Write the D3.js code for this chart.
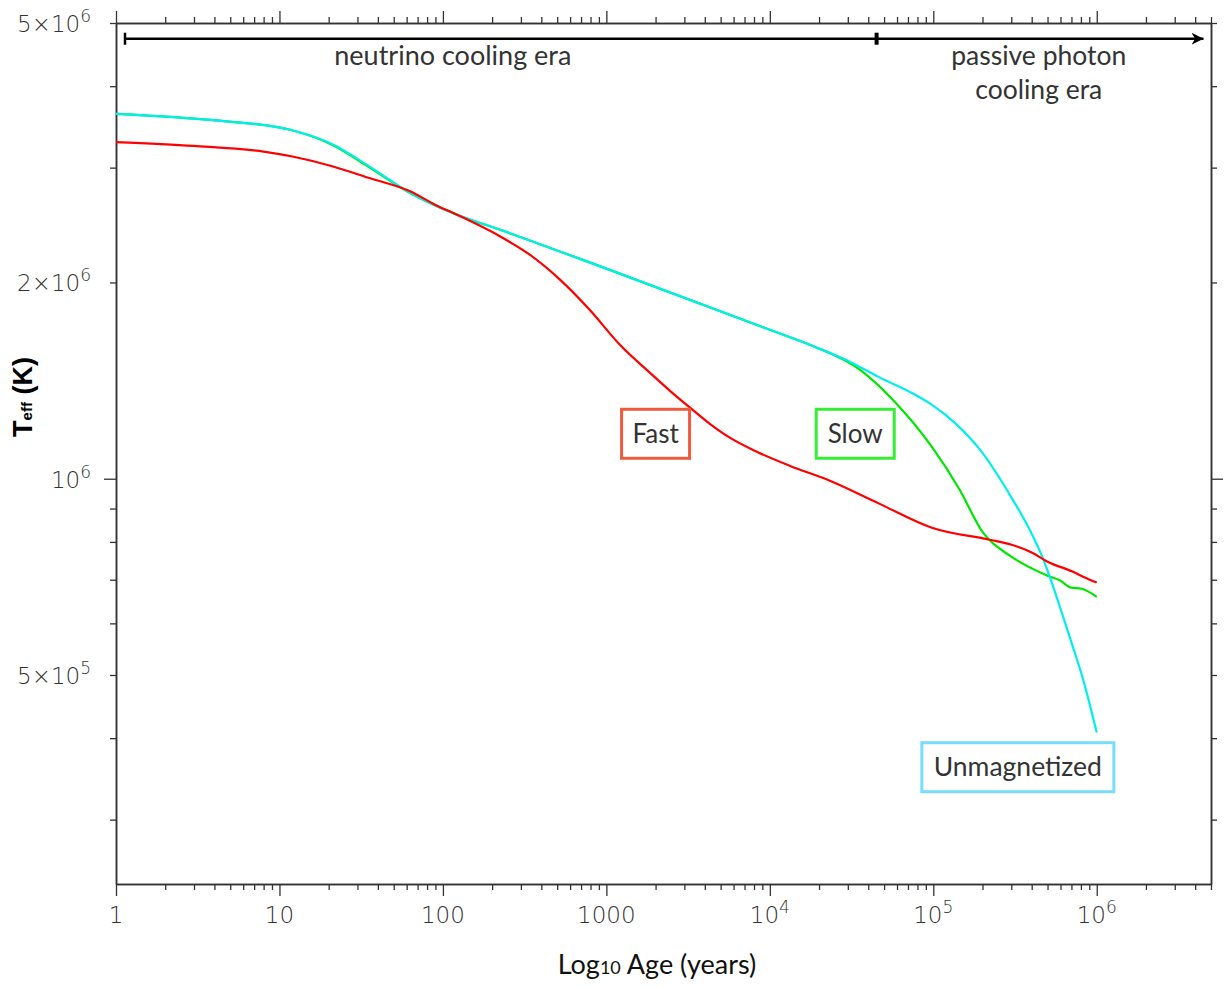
<!DOCTYPE html>
<html>
<head>
<meta charset="utf-8">
<script src="https://cdn.jsdelivr.net/npm/d3@7/dist/d3.min.js"></script>
<style>
  html, body { margin: 0; padding: 0; background: #fff; }
  svg { display: block; }
</style>
</head>
<body>
<svg id="chart" width="1225" height="987"></svg>
<script>
// ---------------- data ----------------
const fastAge  = [1, 3, 8, 12, 21, 35, 63, 90, 122, 224, 340, 520, 790, 1210, 1850, 2450, 3250, 4295, 5690, 8320, 13200, 23300, 47000, 98000, 221000, 301000, 403000, 500000, 715000, 832000, 1000000];
const fastTeff = [3.284e6, 3.24e6, 3.175e6, 3.12e6, 3.015e6, 2.895e6, 2.76e6, 2.63e6, 2.54e6, 2.353e6, 2.206e6, 2.02e6, 1.816e6, 1.605e6, 1.453e6, 1.364e6, 1.285e6, 1.214e6, 1.156e6, 1.10e6, 1.047e6, 0.993e6, 0.915e6, 0.841e6, 0.806e6, 0.792e6, 0.770e6, 0.746e6, 0.720e6, 0.707e6, 0.693e6];

const slowAge  = [1, 4.1, 11.6, 21.4, 34.3, 63.3, 122, 224, 1000, 10000, 18800, 35500, 56500, 97800, 145000, 198000, 294000, 403000, 500000, 597000, 692000, 809000, 1000000];
const slowTeff = [3.628e6, 3.544e6, 3.43e6, 3.245e6, 3.02e6, 2.74e6, 2.54e6, 2.409e6, 2.10e6, 1.692e6, 1.594e6, 1.47e6, 1.322e6, 1.12e6, 0.962e6, 0.832e6, 0.762e6, 0.728e6, 0.710e6, 0.698e6, 0.681e6, 0.678e6, 0.659e6];

const unmagAge  = [1, 4.1, 11.6, 21.4, 34.3, 63.3, 122, 224, 1000, 10000, 18800, 30800, 47100, 71800, 97800, 135000, 193000, 306000, 389000, 467000, 516000, 619000, 713000, 820000, 1000000];
const unmagTeff = [3.628e6, 3.544e6, 3.43e6, 3.253e6, 3.03e6, 2.743e6, 2.54e6, 2.409e6, 2.10e6, 1.692e6, 1.594e6, 1.512e6, 1.429e6, 1.359e6, 1.299e6, 1.219e6, 1.108e6, 0.929e6, 0.835e6, 0.756e6, 0.707e6, 0.617e6, 0.553e6, 0.495e6, 0.408e6];

const xMajorTicks = [1, 10, 100, 1000, 1e4, 1e5, 1e6];
const xTickLabels = ["1", "10", "100", "1000", ["10", "4"], ["10", "5"], ["10", "6"]];
const yLabelTicks = [5e5, 1e6, 2e6, 5e6];
const yTickLabels = [["5×10", "5"], ["10", "6"], ["2×10", "6"], ["5×10", "6"]];
const yMinorTicks = [3e5, 4e5, 5e5, 6e5, 7e5, 8e5, 9e5, 2e6, 3e6, 4e6, 5e6];
const yMajorTicks = [1e6];

const seriesNames = ["Fast", "Slow", "Unmagnetized"];
const xDomain = [1, 5e6];
const yDomain = [2.39e5, 5e6];

// ---------------- layout ----------------
const L = 116, R = 1211, T = 23, B = 884;
const svg = d3.select("#chart");
const x = d3.scaleLog().domain(xDomain).range([L, R]);
const y = d3.scaleLog().domain(yDomain).range([B, T]);

const axisColor = "#333";
const tickFont = "'DejaVu Sans', 'Liberation Sans', sans-serif";
const annoFont = "Lato, 'Open Sans', sans-serif";

// minor x ticks
const xMinorTicks = [];
for (let d = 1; d <= 1e6; d *= 10) {
  for (let k = 2; k <= 9; k++) {
    const v = d * k;
    if (v <= 5e6) xMinorTicks.push(v);
  }
}

function styleAxis(g) {
  g.select(".domain").attr("stroke", axisColor).attr("stroke-width", 1.5);
  g.selectAll(".tick line").attr("stroke", axisColor).attr("stroke-width", 1.3);
  g.selectAll(".tick text").remove();
}

// bottom axis
const gB = svg.append("g").attr("transform", `translate(0,${B})`);
gB.call(d3.axisBottom(x).tickValues(xMinorTicks).tickSize(6).tickSizeOuter(0)).call(styleAxis);
const gB2 = svg.append("g").attr("transform", `translate(0,${B})`);
gB2.call(d3.axisBottom(x).tickValues(xMajorTicks).tickSize(12).tickSizeOuter(0)).call(styleAxis);

// top axis
const gT = svg.append("g").attr("transform", `translate(0,${T})`);
gT.call(d3.axisTop(x).tickValues(xMinorTicks).tickSize(6).tickSizeOuter(0)).call(styleAxis);
const gT2 = svg.append("g").attr("transform", `translate(0,${T})`);
gT2.call(d3.axisTop(x).tickValues(xMajorTicks).tickSize(12).tickSizeOuter(0)).call(styleAxis);

// left axis
const gL = svg.append("g").attr("transform", `translate(${L},0)`);
gL.call(d3.axisLeft(y).tickValues(yMinorTicks).tickSize(6).tickSizeOuter(0)).call(styleAxis);
const gL2 = svg.append("g").attr("transform", `translate(${L},0)`);
gL2.call(d3.axisLeft(y).tickValues(yMajorTicks).tickSize(12).tickSizeOuter(0)).call(styleAxis);

// right axis
const gR = svg.append("g").attr("transform", `translate(${R},0)`);
gR.call(d3.axisRight(y).tickValues(yMinorTicks).tickSize(6).tickSizeOuter(0)).call(styleAxis);
const gR2 = svg.append("g").attr("transform", `translate(${R},0)`);
gR2.call(d3.axisRight(y).tickValues(yMajorTicks).tickSize(12).tickSizeOuter(0)).call(styleAxis);

// x tick labels
xMajorTicks.forEach((v, i) => {
  const lab = xTickLabels[i];
  const t = svg.append("text")
    .attr("x", x(v)).attr("y", 923)
    .attr("text-anchor", "middle")
    .attr("font-family", tickFont).attr("font-weight", 200)
    .attr("font-size", 23).attr("fill", "#333");
  if (Array.isArray(lab)) {
    t.append("tspan").text(lab[0]);
    t.append("tspan").attr("dy", -10).attr("font-size", 17).text(lab[1]);
  } else {
    t.text(lab);
  }
});

// y tick labels
yLabelTicks.forEach((v, i) => {
  const lab = yTickLabels[i];
  const t = svg.append("text")
    .attr("x", 91).attr("y", y(v) + 9)
    .attr("text-anchor", "end")
    .attr("font-family", tickFont).attr("font-weight", 200)
    .attr("font-size", 23).attr("fill", "#333");
  t.append("tspan").text(lab[0]);
  t.append("tspan").attr("dy", -10).attr("font-size", 17).text(lab[1]);
});

// axis titles
const yt = svg.append("text")
  .attr("transform", `translate(32,397) rotate(-90)`)
  .attr("text-anchor", "middle")
  .attr("font-family", "'Liberation Sans', Arial, sans-serif")
  .attr("font-weight", "bold").attr("font-size", 27).attr("fill", "#000");
yt.append("tspan").text("T");
yt.append("tspan").attr("font-size", 15).text("eff");
yt.append("tspan").text(" (K)");

const xt = svg.append("text")
  .attr("x", 657).attr("y", 974)
  .attr("text-anchor", "middle")
  .attr("font-family", annoFont).attr("font-size", 27).attr("fill", "#111");
xt.append("tspan").text("Log");
xt.append("tspan").attr("font-size", 18).text("10");
xt.append("tspan").text(" Age (years)");

// ---------------- curves ----------------
const line = d3.line()
  .x(d => x(d[0]))
  .y(d => y(d[1]))
  .curve(d3.curveMonotoneX);

const zip = (a, b) => a.map((v, i) => [v, b[i]]);
const seriesData = [
  { name: "Slow", data: zip(slowAge, slowTeff), color: "#00e600" },
  { name: "Unmagnetized", data: zip(unmagAge, unmagTeff), color: "#00eeee" },
  { name: "Fast", data: zip(fastAge, fastTeff), color: "#ff0000" }
];

svg.append("g").selectAll("path")
  .data(seriesData)
  .join("path")
  .attr("d", d => line(d.data))
  .attr("fill", "none")
  .attr("stroke", d => d.color)
  .attr("stroke-width", 2.2)
  .attr("stroke-linejoin", "round");

// ---------------- era arrow ----------------
const eraY = y(4.73e6);
const eraStart = 1.135, eraSplit = 4.5e4, eraEnd = 4.5e6;
svg.append("defs").append("marker")
  .attr("id", "arrow").attr("viewBox", "0 0 10 10")
  .attr("refX", 10).attr("refY", 5)
  .attr("markerWidth", 12).attr("markerHeight", 12)
  .attr("markerUnits", "userSpaceOnUse")
  .attr("orient", "auto")
  .append("path").attr("d", "M0,0 L10,5 L0,10 L3,5 Z").attr("fill", "#000");

svg.append("line")
  .attr("x1", x(eraStart)).attr("x2", x(eraEnd))
  .attr("y1", eraY).attr("y2", eraY)
  .attr("stroke", "#000").attr("stroke-width", 2.5)
  .attr("marker-end", "url(#arrow)");
svg.append("line")
  .attr("x1", x(eraStart)).attr("x2", x(eraStart))
  .attr("y1", eraY - 6).attr("y2", eraY + 6)
  .attr("stroke", "#000").attr("stroke-width", 2.5);
svg.append("line")
  .attr("x1", x(eraSplit)).attr("x2", x(eraSplit))
  .attr("y1", eraY - 6).attr("y2", eraY + 6)
  .attr("stroke", "#000").attr("stroke-width", 4);

svg.append("text")
  .attr("x", x(115)).attr("y", eraY + 26)
  .attr("text-anchor", "middle")
  .attr("font-family", annoFont).attr("font-size", 27).attr("fill", "#333")
  .text("neutrino cooling era");
svg.append("text")
  .attr("x", x(4.42e5)).attr("y", eraY + 26)
  .attr("text-anchor", "middle")
  .attr("font-family", annoFont).attr("font-size", 26.5).attr("fill", "#333")
  .text("passive photon");
svg.append("text")
  .attr("x", x(4.42e5)).attr("y", eraY + 60)
  .attr("text-anchor", "middle")
  .attr("font-family", annoFont).attr("font-size", 26.5).attr("fill", "#333")
  .text("cooling era");

// ---------------- series label boxes ----------------
const boxes = [
  { name: seriesNames[0], age: 2000, teff: 1.172e6, w: 68, h: 49, color: "#ee5a3e" },
  { name: seriesNames[1], age: 3.33e4, teff: 1.172e6, w: 78, h: 49, color: "#33ee33" },
  { name: seriesNames[2], age: 3.29e5, teff: 3.61e5, w: 192, h: 49, color: "#77ddfa" }
];
const bg = svg.append("g").selectAll("g").data(boxes).join("g")
  .attr("transform", d => `translate(${x(d.age)},${y(d.teff)})`);
bg.append("rect")
  .attr("x", d => -d.w / 2).attr("y", d => -d.h / 2)
  .attr("width", d => d.w).attr("height", d => d.h)
  .attr("fill", "#fff").attr("stroke", d => d.color).attr("stroke-width", 3);
bg.append("text")
  .attr("y", 9).attr("text-anchor", "middle")
  .attr("font-family", annoFont).attr("font-size", d => d.name === "Unmagnetized" ? 26.5 : 26).attr("fill", "#333")
  .text(d => d.name);
</script>
</body>
</html>
